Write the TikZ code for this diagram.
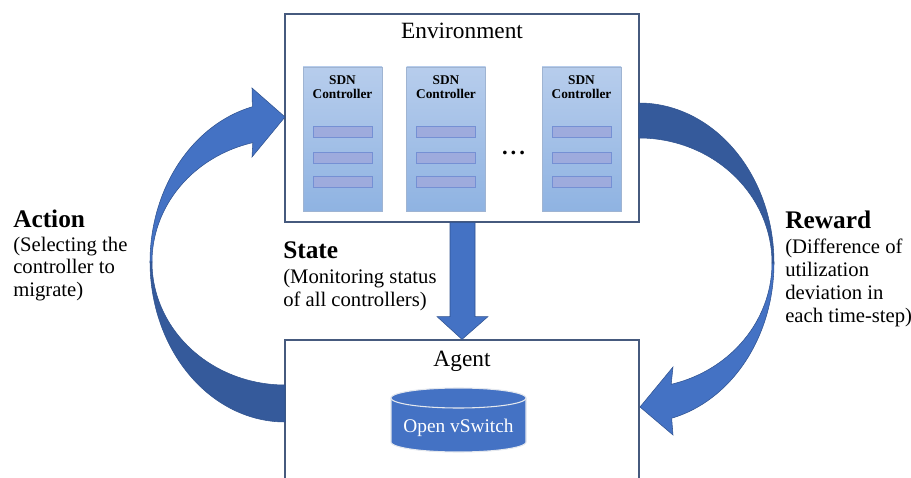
\documentclass[tikz,border=0pt]{standalone}
\usepackage{fontspec}
\setmainfont{Liberation Serif}
\usetikzlibrary{calc}
\definecolor{arrlight}{HTML}{4472C4}
\definecolor{arrdark}{HTML}{355A9B}
\definecolor{arrline}{HTML}{2F528F}
\definecolor{boxline}{HTML}{465A7E}
\definecolor{ctrltop}{HTML}{B7CDEC}
\definecolor{ctrlbot}{HTML}{8FB3E2}
\definecolor{ctrlline}{HTML}{9FB4D2}
\definecolor{barfill}{HTML}{9EABDD}
\definecolor{barline}{HTML}{7590D4}
\definecolor{cylline}{HTML}{E4E8EE}
\tikzset{
  bigbox/.style={draw=boxline, line width=0.9pt, fill=white, inner sep=0pt, minimum width=265.5pt},
  ctrlbox/.style={draw=ctrlline, line width=0.6pt, top color=ctrltop, bottom color=ctrlbot, inner sep=0pt, minimum width=59.25pt, minimum height=108pt},
  barbox/.style={draw=barline, line width=0.6pt, fill=barfill, inner sep=0pt, minimum width=44.25pt, minimum height=8.25pt},
  ctrltext/.style={font=\fontsize{10}{12}\selectfont\bfseries, anchor=base, inner sep=0pt},
  titletext/.style={font=\fontsize{17.5}{21}\selectfont, anchor=base, inner sep=0pt},
  headtext/.style={font=\fontsize{19}{23}\selectfont\bfseries, anchor=base west, inner sep=0pt},
  bodytext/.style={font=\fontsize{15.5}{18}\selectfont, anchor=base west, inner sep=0pt},
  arrowfill/.style={draw=arrline, line width=0.4pt}
}
\begin{document}
\begin{tikzpicture}[x=0.75pt,y=-0.75pt]
\useasboundingbox (0,0) rectangle (911,478);
\clip (0,0) rectangle (911,478);

% Environment box
\node[bigbox, minimum height=156pt] (env) at (462,118) {};
\node[titletext] (envlabel) at (462,39) {Environment};

% SDN controllers
\foreach \cx/\nm in {342.5/c1, 446/c2, 581.5/c3}{
  \node[ctrlbox] (\nm) at (\cx,139) {};
  \node[ctrltext] (\nm sdn) at (\cx,85) {SDN};
  \node[ctrltext] (\nm ctl) at (\cx,98.5) {Controller};
  \node[barbox] (\nm b1) at (\cx,131.5) {};
  \node[barbox] (\nm b2) at (\cx,158) {};
  \node[barbox] (\nm b3) at (\cx,181.5) {};
}
\node[font=\fontsize{17}{20}\selectfont\bfseries, anchor=base, inner sep=0pt] (dots) at (513.5,155) {.\hspace{2.2pt}.\hspace{2.2pt}.};

% Agent box (open at bottom)
\node[bigbox, minimum height=150pt] (agent) at (462,440) {};
\node[titletext] (agentlabel) at (462,366) {Agent};

% Open vSwitch cylinder
\fill[arrlight, draw=cylline, line width=0.8pt]
  plot[domain=180:360, samples=60] ({458.5+67.5*cos(\x)},{398+10*sin(\x)})
  -- plot[domain=0:180, samples=60] ({458.5+67.5*cos(\x)},{442+10*sin(\x)}) -- cycle;
\draw[cylline, line width=0.8pt]
  plot[domain=0:180, samples=60] ({458.5+67.5*cos(\x)},{398+10*sin(\x)});
\node[font=\fontsize{14.5}{17}\selectfont, text=white, anchor=base, inner sep=0pt] (ovs) at (458.5,432) {Open vSwitch};

% State arrow (Environment -> Agent)
\fill[arrlight, arrowfill]
  ($(env.south)+(-12,0)$) -- ($(env.south)+(-12,94)$) -- ($(env.south)+(-25,94)$)
  -- (agent.north) -- ($(env.south)+(26,94)$) -- ($(env.south)+(13,94)$)
  -- ($(env.south)+(13,0)$) -- cycle;

% Action arrow (Agent -> Environment), left side
\fill[arrdark, arrowfill]
  plot[domain=90:180, samples=60] ({285+135*cos(\x)},{262+160*sin(\x)})
  -- plot[domain=180:90, samples=60] ({285+133*cos(\x)},{262+123*sin(\x)}) -- cycle;
\fill[arrlight, arrowfill]
  plot[domain=180:256, samples=60] ({285+135*cos(\x)},{262+160*sin(\x)})
  -- (252,88) -- (285,117) -- (252,157)
  -- plot[domain=256:180, samples=60] ({285+133*cos(\x)},{262+123*sin(\x)}) -- cycle;

% Reward arrow (Environment -> Agent), right side
\fill[arrdark, arrowfill]
  plot[domain=-90:0, samples=60] ({639+135*cos(\x)},{263+160*sin(\x)})
  -- plot[domain=0:-90, samples=60] ({639+133*cos(\x)},{263+125*sin(\x)}) -- cycle;
\fill[arrlight, arrowfill]
  plot[domain=0:76, samples=60] ({639+135*cos(\x)},{263+160*sin(\x)})
  -- (673,435) -- (640,407) -- (673,367)
  -- plot[domain=76:0, samples=60] ({639+133*cos(\x)},{263+125*sin(\x)}) -- cycle;

% Labels
\node[headtext] (acth) at (13,227) {Action};
\node[bodytext] (act1) at (13,251) {(Selecting the};
\node[bodytext] (act2) at (13,273.5) {controller to};
\node[bodytext] (act3) at (13,296) {migrate)};

\node[headtext] (sth) at (283,258) {State};
\node[bodytext] (st1) at (283,283) {(Monitoring status};
\node[bodytext] (st2) at (283,306) {of all controllers)};

\node[headtext] (rwh) at (785,228) {Reward};
\node[bodytext] (rw1) at (785,253) {(Difference of};
\node[bodytext] (rw2) at (785,276) {utilization};
\node[bodytext] (rw3) at (785,299) {deviation in};
\node[bodytext] (rw4) at (785,322) {each time-step)};
\end{tikzpicture}
\end{document}
